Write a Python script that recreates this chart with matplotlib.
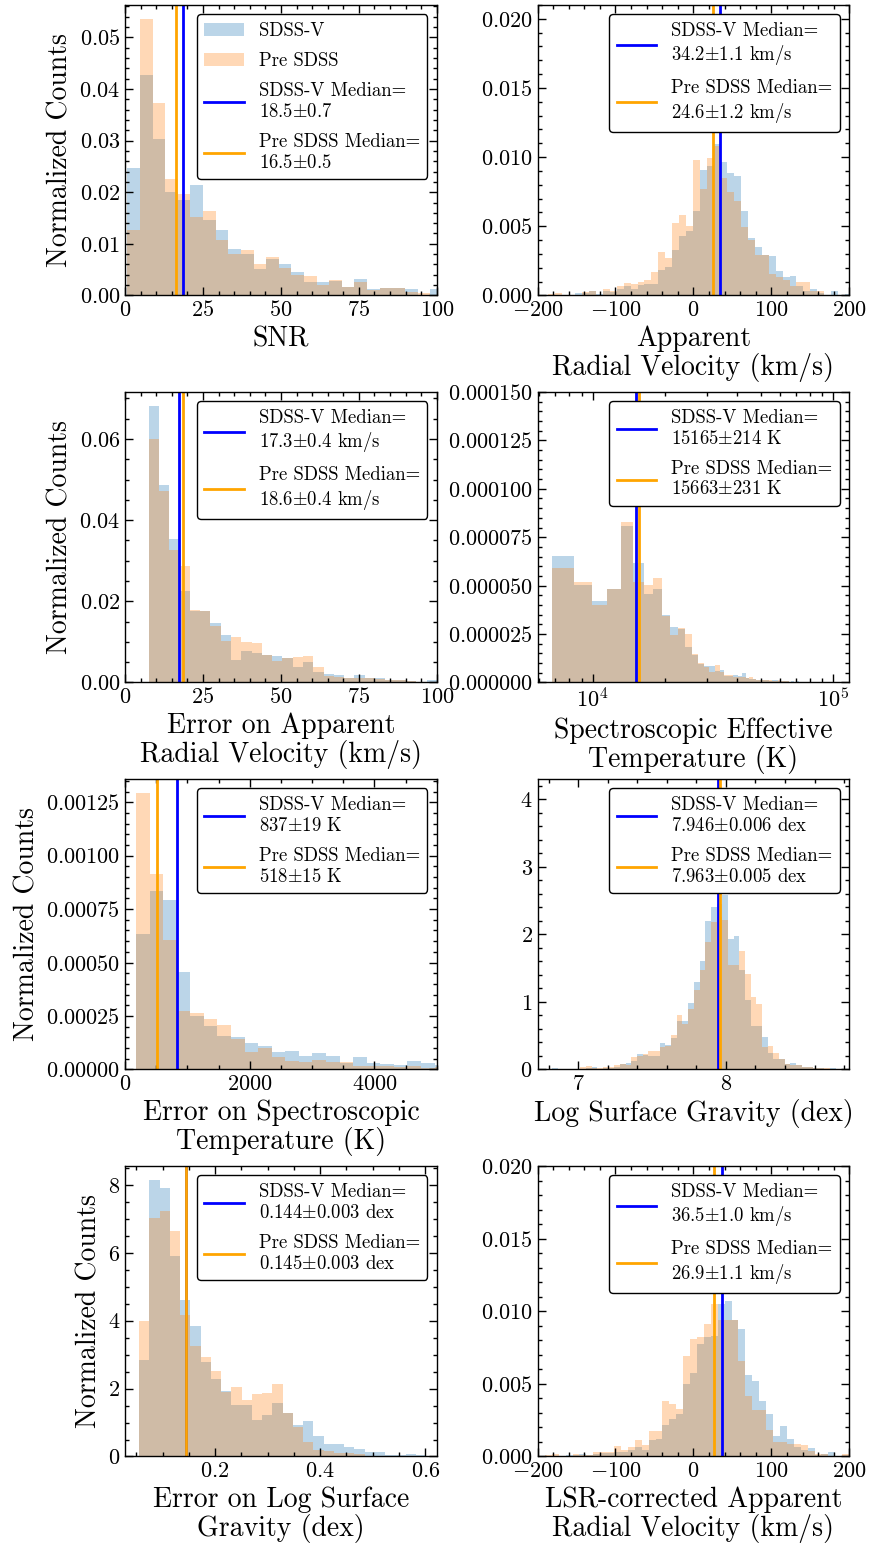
import numpy as np
import matplotlib
matplotlib.use("Agg")
import matplotlib.pyplot as plt
from matplotlib.ticker import AutoMinorLocator, MultipleLocator

plt.rcParams['font.family'] = 'serif'
plt.rcParams['font.serif'] = ['cmr10']
plt.rcParams['mathtext.fontset'] = 'cm'
plt.rcParams['axes.formatter.use_mathtext'] = True
plt.rcParams['axes.linewidth'] = 1.0

# ---- SNR ----
snr_edges = np.linspace(0.76, 101.9, 26)
snr_sdss5 = [0.0247, 0.0428, 0.0304, 0.0200, 0.0184, 0.0213, 0.0147, 0.0127, 0.0090, 0.0081,
             0.0052, 0.0071, 0.0061, 0.0045, 0.0025, 0.0026, 0.0027, 0.0017, 0.0032, 0.0013,
             0.0015, 0.0015, 0.0012, 0.0000, 0.0013]
snr_pre = [0.0127, 0.0536, 0.0373, 0.0226, 0.0197, 0.0151, 0.0163, 0.0108, 0.0081, 0.0087,
           0.0061, 0.0074, 0.0054, 0.0040, 0.0038, 0.0021, 0.0030, 0.0017, 0.0026, 0.0011,
           0.0015, 0.0015, 0.0007, 0.0005, 0.0000]

# ---- apparent RV ----
rv_edges = np.linspace(-186.8, -186.8 + 8.86 * 44, 45)
rv_sdss5 = [0, 0, 0, 0, 0.00017, 0.00017, 0.00034, 0.0001, 0.00034, 0.00025,
            0.00048, 0.00065, 0.00048, 0.00075, 0.00085, 0.00085, 0.00186, 0.00207, 0.00330, 0.00426,
            0.00468, 0.00612, 0.00909, 0.00937, 0.01096, 0.00964, 0.00885, 0.00865, 0.00612, 0.00415,
            0.00350, 0.00289, 0.00287, 0.00179, 0.00130, 0.00142, 0.00065, 0.00029, 0.00048, 0.00017,
            0.0, 0.00034, 0.0, 0.00012]
rv_pre = [0.0001, 0.00017, 0, 0, 0, 0.00024, 0.00034, 0, 0.00048, 0.00034,
          0.00065, 0.00092, 0.00082, 0.00099, 0.00111, 0.00169, 0.00316, 0.00272, 0.00525, 0.00581,
          0.00504, 0.00981, 0.00771, 0.00993, 0.0108, 0.00849, 0.00745, 0.00679, 0.00494, 0.00403,
          0.00294, 0.00294, 0.00157, 0.00130, 0.00113, 0.00065, 0.00097, 0.00097, 0.00029, 0.00034,
          0, 0, 0, 0]

# ---- error on RV ----
erv_edges = np.linspace(7.6, 100.0, 29)
erv_sdss5 = [0.0682, 0.0487, 0.0353, 0.0226, 0.0177, 0.0177, 0.0146, 0.0118, 0.0056, 0.0078,
             0.0072, 0.0068, 0.0064, 0.0060, 0.0039, 0.0051, 0.0025, 0.0021, 0.0019, 0.0012,
             0.0019, 0.0011, 0.0012, 0.0007, 0.0007, 0.0004, 0.0002, 0.0007]
erv_pre = [0.0600, 0.0473, 0.0327, 0.0288, 0.0179, 0.0175, 0.0140, 0.0103, 0.0111, 0.0100,
           0.0098, 0.0067, 0.0052, 0.0060, 0.0062, 0.0066, 0.0037, 0.0016, 0.0013, 0.0012,
           0.0012, 0.0011, 0.0008, 0.0007, 0.0007, 0.0004, 0.0002, 0.0000]

# ---- Teff (values in 1e-5) ----
teff_edges = np.linspace(6780, 101820, 61)
teff_sdss5 = [6.55, 5.04, 4.22, 4.85, 8.10, 6.18, 4.59, 4.85, 3.50, 2.88,
              2.78, 1.85, 1.40, 0.97, 0.86, 0.85, 0.60, 0.66, 0.34, 0.34,
              0.37, 0.32, 0.50, 0.22, 0.20, 0.18, 0.15, 0.12, 0.10, 0.14,
              0.08, 0.10, 0.12, 0.06, 0.08, 0.05, 0.07, 0.04, 0.05, 0.03,
              0.05, 0.03, 0.02, 0.04, 0.02, 0.02, 0.01, 0, 0, 0,
              0.01, 0, 0, 0, 0, 0, 0, 0, 0, 0.01]
teff_pre = [5.93, 5.21, 4.02, 4.81, 8.28, 5.17, 5.05, 5.41, 3.45, 2.47,
            2.83, 2.52, 1.48, 1.02, 0.81, 0.54, 0.88, 0.55, 0.40, 0.39,
            0.29, 0.26, 0.28, 0.22, 0.28, 0.18, 0.12, 0.15, 0.12, 0.10,
            0.12, 0.08, 0.06, 0.10, 0.05, 0.07, 0.05, 0.04, 0.03, 0.04,
            0.02, 0.03, 0.02, 0.02, 0.01, 0.02, 0.01, 0, 0, 0,
            0, 0, 0, 0, 0, 0, 0, 0, 0, 0]

# ---- error on Teff ----
eteff_edges = np.linspace(176, 176 + 217.6 * 23, 24)
eteff_sdss5 = [0.000633, 0.000834, 0.000792, 0.000455, 0.000249, 0.000204, 0.000156, 0.000151,
               0.000123, 0.000109, 0.000083, 0.000086, 0.000064, 0.000076, 0.000064, 0.000028,
               0.000056, 0.000031, 0.000025, 0.000020, 0.000041, 0.000028, 0.000020]
eteff_pre = [0.001294, 0.000913, 0.000605, 0.000273, 0.000263, 0.000235, 0.000207, 0.000143,
             0.000081, 0.000101, 0.000059, 0.000039, 0.000036, 0.000044, 0.000033, 0.000034,
             0.000017, 0.000017, 0.000016, 0.000012, 0.000016, 0.000008, 0.000010]

# ---- logg ----
logg_edges = np.linspace(6.823, 8.743, 51)
logg_sdss5 = [0.015, 0, 0, 0, 0, 0, 0.015, 0.03, 0.0, 0.015,
              0.02, 0.04, 0.079, 0.093, 0.13, 0.227, 0.21, 0.20, 0.20, 0.385,
              0.36, 0.46, 0.71, 0.71, 0.98, 1.29, 1.60, 2.20, 2.40, 2.45,
              2.58, 1.93, 1.97, 1.47, 1.03, 0.65, 0.65, 0.48, 0.25, 0.15,
              0.15, 0.074, 0.093, 0.064, 0.03, 0.03, 0.015, 0.015, 0, 0.015]
logg_pre = [0, 0, 0, 0, 0, 0.03, 0.049, 0.015, 0.015, 0.03,
            0.03, 0.064, 0.079, 0.064, 0.18, 0.20, 0.227, 0.27, 0.27, 0.335,
            0.345, 0.51, 0.80, 0.68, 0.89, 1.17, 1.47, 1.88, 2.18, 2.25,
            2.21, 1.55, 1.55, 1.76, 1.42, 1.07, 0.97, 0.335, 0.35, 0.237,
            0.15, 0.074, 0.064, 0.064, 0.03, 0.03, 0.015, 0.015, 0.02, 0]

# ---- error on logg ----
elogg_edges = np.linspace(0.0555, 0.0555 + 0.0195 * 28, 29)
elogg_sdss5 = [2.85, 8.15, 7.91, 5.91, 4.61, 3.85, 2.79, 2.29, 1.93, 1.52,
               1.52, 1.08, 1.23, 1.57, 1.28, 0.93, 1.05, 0.61, 0.36, 0.38,
               0.28, 0.21, 0.12, 0.12, 0.05, 0.05, 0.08, 0.05]
elogg_pre = [4.00, 7.04, 7.23, 6.64, 4.17, 3.26, 2.94, 2.52, 1.91, 2.05,
             1.67, 1.84, 1.87, 2.13, 1.28, 0.88, 0.44, 0.20, 0.15, 0.10,
             0.10, 0.08, 0.0, 0.0, 0.0, 0.0, 0.0, 0.0]

# ---- LSR-corrected RV ----
lsr_edges = np.linspace(-199.4, -199.4 + 8.87 * 45, 46)
lsr_sdss5 = [0, 0, 0, 0, 0.00009, 0.00009, 0.00014, 0.00009, 0.00018, 0.00025,
             0.00025, 0.00030, 0.00030, 0.00048, 0.00064, 0.00048, 0.00110, 0.00117, 0.00214, 0.00255,
             0.00290, 0.00497, 0.00577, 0.00772, 0.00826, 0.00830, 0.01050, 0.01069, 0.00938, 0.00881,
             0.00563, 0.00517, 0.00379, 0.00290, 0.00138, 0.00207, 0.00117, 0.00064, 0.00048, 0.00055,
             0.00009, 0.00018, 0.00034, 0, 0]
lsr_pre = [0, 0.0001, 0.00014, 0, 0, 0.00014, 0.00009, 0.00009, 0.00030, 0.00030,
           0.00034, 0.00071, 0.00048, 0.00064, 0.00110, 0.00076, 0.00172, 0.00172, 0.00379, 0.00359,
           0.00324, 0.00690, 0.00812, 0.00821, 0.00913, 0.01053, 0.00940, 0.00940, 0.00938, 0.00655,
           0.00414, 0.00317, 0.00317, 0.00179, 0.00103, 0.00099, 0.00087, 0.00087, 0.00076, 0.00037,
           0.00014, 0.00018, 0, 0, 0.00014]

# medians (value, error) and label text
med_sdss5 = [18.5, 34.2, 17.3, 15165, 837, 7.946, 0.144, 36.5]
err_sdss5 = [0.7, 1.1, 0.4, 214, 19, 0.006, 0.003, 1.0]
med_pre = [16.5, 24.6, 18.6, 15663, 518, 7.963, 0.145, 26.9]
err_pre = [0.5, 1.2, 0.4, 231, 15, 0.005, 0.003, 1.1]
decimals = [1, 1, 1, 0, 0, 3, 3, 1]
units = ['', ' km/s', ' km/s', ' K', ' K', ' dex', ' dex', ' km/s']

xlabels = ['SNR', 'Apparent\nRadial Velocity (km/s)',
           'Error on Apparent\nRadial Velocity (km/s)', 'Spectroscopic Effective\nTemperature (K)',
           'Error on Spectroscopic\nTemperature (K)', 'Log Surface Gravity (dex)',
           'Error on Log Surface\nGravity (dex)', 'LSR-corrected Apparent\nRadial Velocity (km/s)']

panels = [
    (snr_edges, snr_sdss5, snr_pre),
    (rv_edges, rv_sdss5, rv_pre),
    (erv_edges, erv_sdss5, erv_pre),
    (teff_edges, np.array(teff_sdss5) * 1e-5, np.array(teff_pre) * 1e-5),
    (eteff_edges, eteff_sdss5, eteff_pre),
    (logg_edges, logg_sdss5, logg_pre),
    (elogg_edges, elogg_sdss5, elogg_pre),
    (lsr_edges, lsr_sdss5, lsr_pre),
]

xlims = [(0, 100), (-200, 200), (0, 100), (5906, 116600), (0, 5000), (6.725, 8.835), (0.0286, 0.622), (-200, 200)]
ylims = [None, (0, 0.021), None, (0, 0.00015), None, (0, 4.3), None, (0, 0.020)]
xmajor = [25, 100, 25, None, 2000, 1, 0.2, 100]
ymajor = [0.01, 0.005, 0.02, 0.000025, 0.00025, 1, 2, 0.005]

fig, axes = plt.subplots(4, 2, figsize=(8.7, 15.45), dpi=100)
fig.subplots_adjust(left=0.1437, right=0.9762, top=0.9968, bottom=0.0573,
                    wspace=0.323, hspace=0.3325)

for i, ax in enumerate(axes.flat):
    edges, h5, hpre = panels[i]
    edges = np.asarray(edges)
    centers = 0.5 * (edges[:-1] + edges[1:])
    if i == 3:
        ax.set_xscale('log')
    ax.hist(centers, bins=edges, weights=h5, color='tab:blue', alpha=0.3,
            label='SDSS-V' if i == 0 else None)
    ax.hist(centers, bins=edges, weights=hpre, color='tab:orange', alpha=0.3,
            label='Pre SDSS' if i == 0 else None)
    d = decimals[i]
    ax.axvline(med_sdss5[i], color='blue', lw=2,
               label='SDSS-V Median=\n%.*f$\\pm$%.*f%s' % (d, med_sdss5[i], d, err_sdss5[i], units[i]))
    ax.axvline(med_pre[i], color='orange', lw=2,
               label='Pre SDSS Median=\n%.*f$\\pm$%.*f%s' % (d, med_pre[i], d, err_pre[i], units[i]))

    ax.set_xlim(*xlims[i])
    if ylims[i] is not None:
        ax.set_ylim(*ylims[i])
    else:
        ax.set_ylim(bottom=0)
    if xmajor[i] is not None:
        ax.xaxis.set_major_locator(MultipleLocator(xmajor[i]))
        ax.xaxis.set_minor_locator(AutoMinorLocator())
    ax.yaxis.set_major_locator(MultipleLocator(ymajor[i]))
    ax.yaxis.set_minor_locator(AutoMinorLocator())
    ax.tick_params(which='both', direction='in', top=True, right=True, labelsize=16)
    ax.tick_params(which='major', length=6, width=1)
    ax.tick_params(which='minor', length=3, width=1)

    ax.set_xlabel(xlabels[i], fontsize=20, linespacing=1.05)
    if i % 2 == 0:
        ax.set_ylabel('Normalized Counts', fontsize=20)
    ax.legend(loc='upper right', fontsize=13.5, framealpha=1, edgecolor='k',
              handlelength=2.1, labelspacing=0.65)

fig.savefig('out.png', dpi=100)
